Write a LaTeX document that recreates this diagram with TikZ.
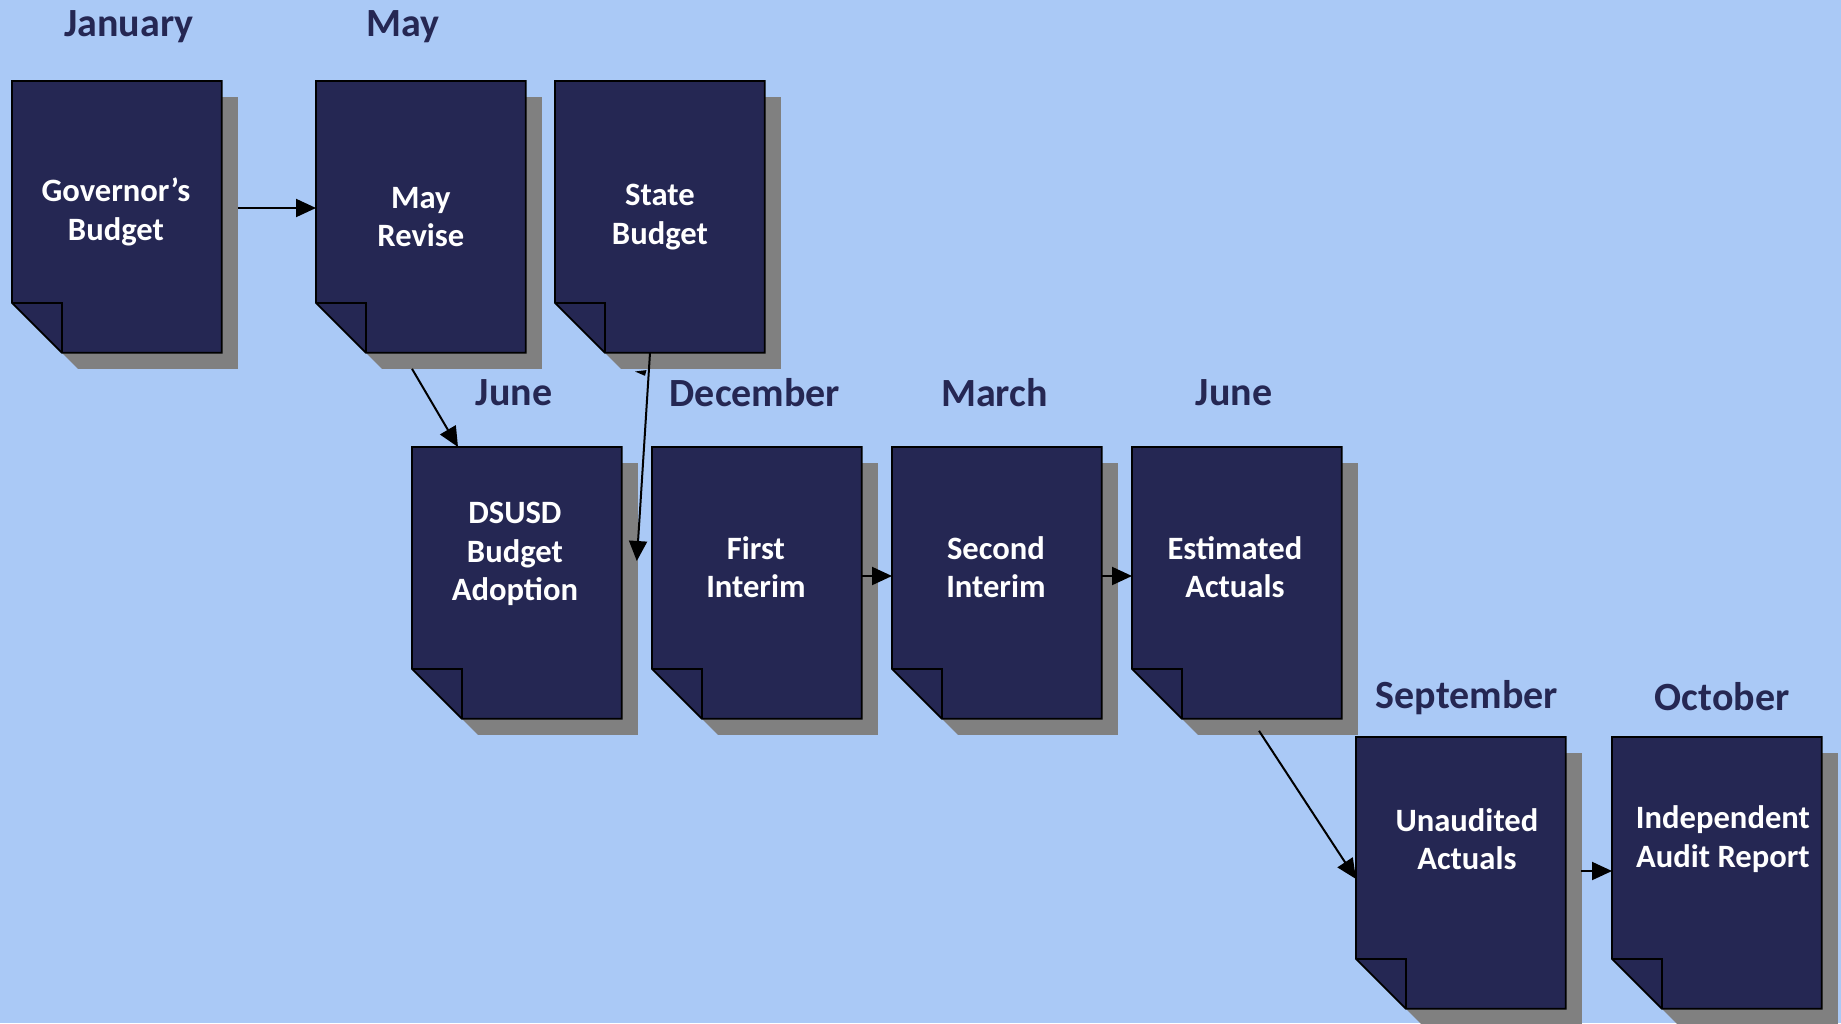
\documentclass[tikz,border=0pt]{standalone}
\usepackage{fontspec}
\setmainfont{Carlito}
\usepackage{tikz}
\usetikzlibrary{calc}
\usetikzlibrary{arrows.meta}

\definecolor{bgblue}{RGB}{170,201,246}
\definecolor{docnavy}{RGB}{37,39,83}
\definecolor{docshade}{RGB}{128,128,128}

\tikzset{
  docbox/.style={draw=none,inner sep=0,anchor=north west,minimum width=104.5pt,minimum height=135.5pt},
  doctext/.style={text=white,inner sep=0,align=center,font=\bfseries\fontsize{16.3}{19.3}\selectfont},
  month/.style={text=docnavy,inner sep=0,font=\bfseries\fontsize{20}{24}\selectfont},
  flow/.style={color=black,line width=1pt,-{Triangle[length=10pt,width=9pt]}}
}

\begin{document}
\begin{tikzpicture}[x=0.5pt,y=-0.5pt]
\fill[bgblue] (0,0) rectangle (1841,1023);
\useasboundingbox (0,0) rectangle (1841,1023);

\def\sh{16}
\def\fold{50}
\def\lw{0.9pt}

% documents
\node[docbox] (gov)    at (12,81)    {};
\node[docbox] (may)    at (316,81)   {};
\node[docbox] (state)  at (555,81)   {};
\node[docbox] (dsusd)  at (412,447)  {};
\node[docbox] (first)  at (652,447)  {};
\node[docbox] (second) at (892,447)  {};
\node[docbox] (est)    at (1132,447) {};
\node[docbox] (unaud)  at (1356,737) {};
\node[docbox] (audit)  at (1612,737) {};

\foreach \n in {gov,may,state,dsusd,first,second,est,unaud,audit}{
  \fill[docshade] ($(\n.north west)+(\sh,\sh)$) -- ($(\n.north east)+(\sh,\sh)$) -- ($(\n.south east)+(\sh,\sh)$)
    -- ($(\n.south west)+(\fold+\sh,\sh)$) -- ($(\n.south west)+(\sh,-\fold+\sh)$) -- cycle;
  \draw[color=black,fill=docnavy,line width=\lw] (\n.north west) -- (\n.north east) -- (\n.south east)
    -- ($(\n.south west)+(\fold,0)$) -- ($(\n.south west)+(0,-\fold)$) -- cycle;
  \draw[color=black,line width=\lw] ($(\n.south west)+(0,-\fold)$) -- ($(\n.south west)+(\fold,-\fold)$) -- ($(\n.south west)+(\fold,0)$);
}

% texts
\node[doctext] (gov-t)    at ($(gov.north)+(-1,131)$)   {Governor’s\\Budget};
\node[doctext] (may-t)    at ($(may.north)+(0,136)$)    {May\\Revise};
\node[doctext] (state-t)  at ($(state.north)+(0,136)$)  {State\\Budget};
\node[doctext] (dsusd-t)  at ($(dsusd.north)+(-2,107)$) {DSUSD\\Budget\\Adoption};
\node[doctext] (first-t)  at ($(first.north)+(-1,120)$) {First\\Interim};
\node[doctext] (second-t) at ($(second.north)+(-1,120)$) {Second\\Interim};
\node[doctext] (est-t)    at ($(est.north)+(-2,120)$)   {Estimated\\Actuals};
\node[doctext] (unaud-t)  at ($(unaud.north)+(6,102)$)  {Unaudited\\Actuals};
\node[doctext] (audit-t)  at ($(audit.north)+(6,102)$)  {Independent\\Audit Report};

% months
\node[month] (m-jan) at (129,27)  {January};
\node[month] (m-may) at (403,27)  {May};
\node[month] (m-jun) at (514,393)   {June};
\node[month] (m-dec) at (755,393)   {December};
\node[month] (m-mar) at (994.5,393) {March};
\node[month] (m-jn2) at (1234,393)  {June};
\node[month] (m-sep) at (1467,698)  {September};
\node[month] (m-oct) at (1722,697)  {October};

% connectors
\draw[flow] ($(gov.north east)+(\sh,127)$) -- ($(may.north west)+(0,127)$);
\draw[flow] ($(may.south west)+(96,\sh)$) -- ($(dsusd.north west)+(46,0)$);
\draw[flow] ($(state.south west)+(95,0)$) -- ($(dsusd.north east)+(15,114)$);
\fill[black] ($(state.south west)+(80,18.7)$) -- ($(state.south west)+(91.5,17.3)$) -- ($(state.south west)+(90,23)$) -- cycle;
\draw[flow] ($(first.north east)+(0,129)$) -- ($(second.north west)+(0,129)$);
\draw[flow] ($(second.north east)+(0,129)$) -- ($(est.north west)+(0,129)$);
\draw[flow] ($(est.south west)+(127,12)$) -- ($(unaud.north west)+(0,142)$);
\draw[flow] ($(unaud.north east)+(15,134)$) -- ($(audit.north west)+(0,134)$);

\end{tikzpicture}
\end{document}
